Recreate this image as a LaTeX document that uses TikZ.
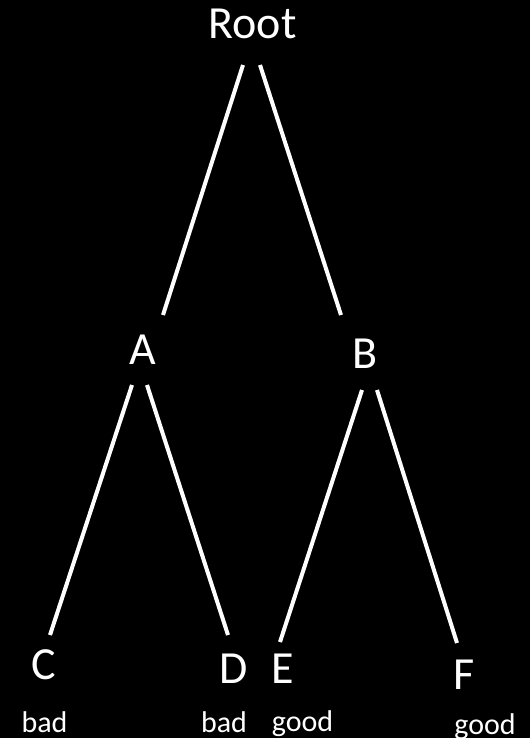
\documentclass[tikz,border=0pt]{standalone}
\usepackage{fontspec}
\setmainfont{Carlito}
\begin{document}
\begin{tikzpicture}[x=1pt,y=-1pt,
  big/.style={text=white,anchor=base,inner sep=0pt,font=\fontsize{46}{50}\selectfont},
  small/.style={text=white,anchor=base,inner sep=0pt,font=\fontsize{30}{34}\selectfont},
  edge/.style={draw=white,line width=4pt}]
\fill[black] (0,0) rectangle (530,738);
\useasboundingbox (0,0) rectangle (530,738);
\node[big] (Root) at (252.5,39) {Root};
\node[big] (A) at (142.5,364) {A};
\node[big] (B) at (365,368) {B};
\node[big] (C) at (44,679) {C};
\node[big] (D) at (233.5,683) {D};
\node[big] (E) at (283,683) {E};
\node[big] (F) at (464.5,689) {F};
\node[small] (bad1) at (44.5,732) {bad};
\node[small] (bad2) at (224,732) {bad};
\node[small] (good1) at (302.5,731) {good};
\node[small] (good2) at (485,734) {good};
\coordinate (rA) at (243,65); \coordinate (aR) at (163,315);
\coordinate (rB) at (260,65); \coordinate (bR) at (341,315);
\coordinate (aC) at (132,385); \coordinate (cA) at (50,635);
\coordinate (aD) at (147,385); \coordinate (dA) at (228,635);
\coordinate (bE) at (362,390); \coordinate (eB) at (280,642);
\coordinate (bF) at (377,390); \coordinate (fB) at (457,643);
\draw[edge] (rA) -- (aR);
\draw[edge] (rB) -- (bR);
\draw[edge] (aC) -- (cA);
\draw[edge] (aD) -- (dA);
\draw[edge] (bE) -- (eB);
\draw[edge] (bF) -- (fB);
\end{tikzpicture}
\end{document}
